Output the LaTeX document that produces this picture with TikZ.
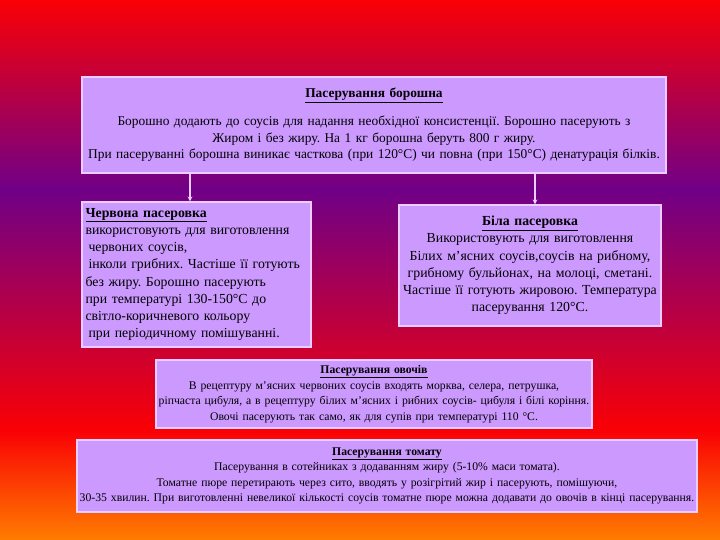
\documentclass[tikz,border=0pt]{standalone}
\usepackage{fontspec}
\setmainfont{Liberation Serif}
\usetikzlibrary{positioning}

\definecolor{bgred}{RGB}{250,0,5}
\definecolor{bgpurple}{RGB}{112,0,135}
\definecolor{bgorange}{RGB}{255,125,0}
\definecolor{lilac}{RGB}{204,153,255}
\definecolor{rim}{RGB}{235,205,255}
\newcommand{\hd}[1]{\underline{\textbf{#1}}}
\frenchspacing

\begin{document}
\begin{tikzpicture}[x=1pt,y=-1pt,
  box/.style={draw=rim,line width=1.2pt,fill=lilac,inner sep=1pt,align=center},
  big/.style={font=\fontsize{13.8}{17.2}\selectfont},
  small/.style={font=\fontsize{11.7}{15.5}\selectfont},
  flow/.style={->,>=stealth,draw=rim,line width=1.2pt}]
\useasboundingbox (0,0) rectangle (720,540);
% background
\shade[top color=bgred,bottom color=bgpurple] (0,0) rectangle (720,190);
\shade[top color=bgpurple,bottom color=bgred] (0,190) rectangle (720,430);
\shade[top color=bgred,bottom color=bgorange] (0,430) rectangle (720,540);

\node[box,font=\fontsize{13.4}{16.6}\selectfont,minimum width=584pt,minimum height=96pt,text width=582pt] (flour) at (374,125)
  {\hd{Пасерування борошна}\\[11pt]
   Борошно додають до соусів для надання необхідної консистенції. Борошно пасерують з\\
   Жиром і без жиру. На 1 кг борошна беруть 800 г жиру.\\
   При пасеруванні борошна виникає часткова (при 120°С) чи повна (при 150°С) денатурація білків.};

\node[box,big,align=left,minimum width=229pt,minimum height=145pt,text width=222pt] (redp) at (196.5,274.5)
  {\hd{Червона пасеровка}\\
   використовують для виготовлення\\
   \hspace{3pt}червоних соусів,\\
   \hspace{3pt}інколи грибних. Частіше її готують\\
   без жиру. Борошно пасерують\\
   при температурі 130-150°С до\\
   світло-коричневого кольору\\
   \hspace{3pt}при періодичному помішуванні.};

\node[box,big,minimum width=262pt,minimum height=121pt,text width=260pt] (whitep) at (530,265.5)
  {\hd{Біла пасеровка}\\
   Використовують для виготовлення\\
   Білих м’ясних соусів,соусів на рибному,\\
   грибному бульйонах, на молоці, сметані.\\
   Частіше її готують жировою. Температура\\
   пасерування 120°С.};

\node[box,small,minimum width=436pt,minimum height=68pt,text width=434pt] (veg) at (374,394)
  {\hd{Пасерування овочів}\\
   В рецептуру м’ясних червоних соусів входять морква, селера, петрушка,\\
   ріпчаста цибуля, а в рецептуру білих м’ясних і рибних соусів- цибуля і білі коріння.\\
   Овочі пасерують так само, як для супів при температурі 110 °С.};

\node[box,small,minimum width=620pt,minimum height=72pt,text width=618pt] (tomato) at (387,476)
  {\hd{Пасерування томату}\\
   Пасерування в сотейниках з додаванням жиру (5-10\% маси томата).\\
   Томатне пюре перетирають через сито, вводять у розігрітий жир і пасерують, помішуючи,\\
   30-35 хвилин. При виготовленні невеликої кількості соусів томатне пюре можна додавати до овочів в кінці пасерування.};

\draw[flow] (flour.south -| 190,0) -- (redp.north -| 190,0);
\draw[flow] (flour.south -| 535,0) -- (whitep.north -| 535,0);
\end{tikzpicture}
\end{document}
